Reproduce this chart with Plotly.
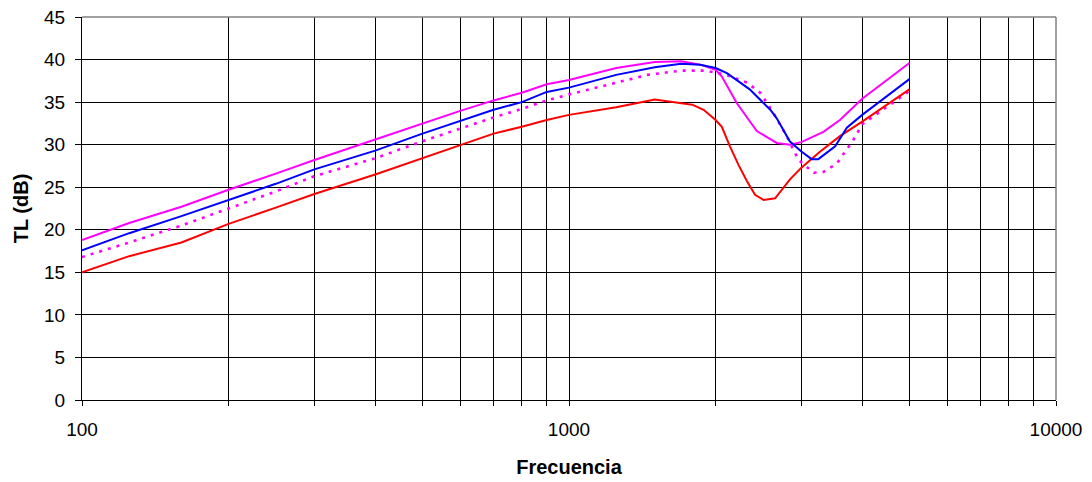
import plotly.graph_objects as go

# Transmission loss curves (dB) versus frequency (Hz)
freq_a = [100, 125, 160, 200, 250, 300, 400, 500, 600, 700, 800, 900, 1000,
          1250, 1500, 1700, 1860, 2000, 2060, 2210, 2430, 2670, 2840, 3000,
          3330, 3600, 4000, 5000]
tl_a = [18.8, 20.8, 22.7, 24.7, 26.6, 28.2, 30.6, 32.5, 34.0, 35.2, 36.1, 37.1, 37.6,
        39.0, 39.7, 39.8, 39.4, 38.8, 38.0, 34.9, 31.6, 30.2, 30.0, 30.3,
        31.5, 32.9, 35.4, 39.6]

freq_b = [100, 125, 160, 200, 250, 300, 400, 500, 600, 700, 800, 900, 1000,
          1250, 1500, 1700, 1860, 2000, 2110, 2350, 2590, 2670, 2840, 3000,
          3150, 3250, 3520, 3720, 4000, 5000]
tl_b = [17.6, 19.6, 21.6, 23.5, 25.4, 27.1, 29.3, 31.3, 32.8, 34.1, 35.0, 36.2, 36.7,
        38.2, 39.1, 39.5, 39.4, 39.0, 38.4, 36.5, 34.1, 33.1, 30.4, 29.2,
        28.3, 28.3, 29.8, 32.0, 33.5, 37.7]

freq_c = [100, 125, 160, 200, 250, 300, 400, 500, 600, 700, 800, 900, 1000,
          1250, 1450, 1700, 1900, 2075, 2320, 2470, 2630, 2800, 2960, 3180,
          3330, 3550, 3840, 4000, 4500, 5000]
tl_c = [16.8, 18.5, 20.5, 22.5, 24.5, 26.3, 28.4, 30.4, 31.9, 33.2, 34.2, 35.2, 35.9,
        37.3, 38.2, 38.7, 38.7, 38.3, 37.3, 36.1, 33.7, 31.0, 28.2, 26.7,
        26.8, 27.8, 30.6, 32.4, 34.5, 36.3]

freq_d = [100, 125, 160, 200, 250, 300, 400, 500, 600, 700, 800, 900, 1000,
          1250, 1500, 1790, 1890, 2000, 2060, 2140, 2230, 2320, 2410, 2510,
          2650, 2840, 3000, 3280, 3600, 4000, 5000]
tl_d = [15.0, 16.9, 18.5, 20.7, 22.6, 24.2, 26.5, 28.4, 30.0, 31.3, 32.1, 32.9, 33.5,
        34.4, 35.3, 34.7, 34.1, 32.9, 32.1, 29.8, 27.6, 25.7, 24.1, 23.5,
        23.7, 25.9, 27.3, 29.2, 31.0, 32.7, 36.5]

# Log-axis grid positions and the decade labels
x_ticks = [100, 200, 300, 400, 500, 600, 700, 800, 900,
           1000, 2000, 3000, 4000, 5000, 6000, 7000, 8000, 9000, 10000]
x_labels = ["100" if v == 100 else "1000" if v == 1000 else "10000" if v == 10000 else ""
            for v in x_ticks]
y_ticks = [0, 5, 10, 15, 20, 25, 30, 35, 40, 45]

fig = go.Figure()
fig.add_trace(go.Scatter(x=freq_c, y=tl_c, mode="lines",
                         line=dict(color="#FF00FF", width=2.6, dash="3px,6px")))
fig.add_trace(go.Scatter(x=freq_d, y=tl_d, mode="lines",
                         line=dict(color="#FF0000", width=2)))
fig.add_trace(go.Scatter(x=freq_a, y=tl_a, mode="lines",
                         line=dict(color="#FF00FF", width=2)))
fig.add_trace(go.Scatter(x=freq_b, y=tl_b, mode="lines",
                         line=dict(color="#0000FF", width=2)))

font_family = "Liberation Sans, Arial, sans-serif"

fig.update_layout(
    width=1092, height=482,
    margin=dict(l=82, r=36, t=17, b=82),
    paper_bgcolor="white", plot_bgcolor="white",
    showlegend=False,
    font=dict(family=font_family, size=19, color="black"),
    xaxis=dict(
        type="log", range=[2, 4], automargin=False,
        tickmode="array", tickvals=x_ticks, ticktext=x_labels,
        ticks="outside", ticklen=5, tickcolor="black",
        ticklabelstandoff=7,
        showgrid=True, gridcolor="#000000", gridwidth=1,
        showline=True, linecolor="black", linewidth=1, mirror=False,
        zeroline=False,
        tickfont=dict(size=19),
        title=dict(text="<b>Frecuencia</b>", font=dict(size=20), standoff=21),
    ),
    yaxis=dict(
        range=[0, 45], automargin=False,
        tickmode="array", tickvals=y_ticks,
        ticks="outside", ticklen=6, tickcolor="black",
        ticklabelstandoff=6,
        showgrid=True, gridcolor="#000000", gridwidth=1,
        showline=True, linecolor="black", linewidth=1,
        zeroline=False,
        tickfont=dict(size=19),
        title=dict(text="<b>TL (dB)</b>", font=dict(size=20), standoff=10),
    ),
    shapes=[
        dict(type="line", xref="paper", yref="paper", x0=0, x1=1, y0=1, y1=1,
             line=dict(color="#808080", width=1.5)),
        dict(type="line", xref="paper", yref="paper", x0=1, x1=1, y0=0, y1=1,
             line=dict(color="#808080", width=1.5)),
    ],
)

fig.write_html("out.html")
